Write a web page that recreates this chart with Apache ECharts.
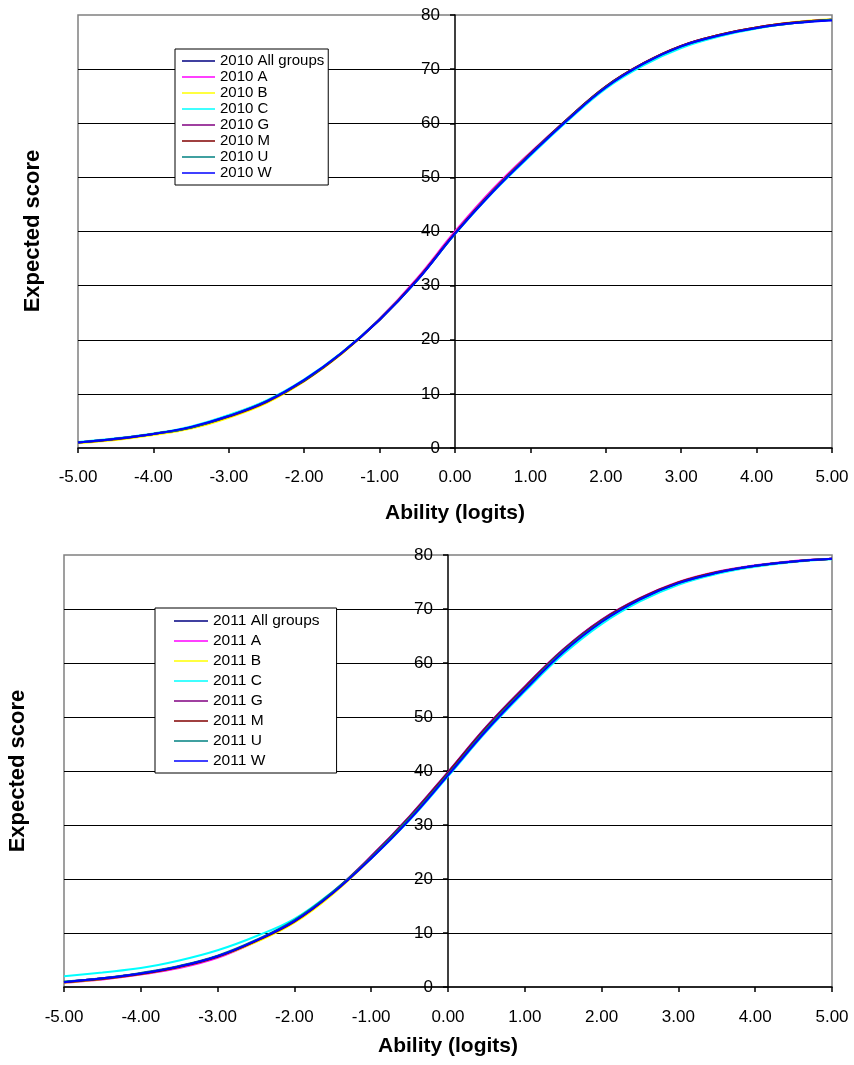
<!DOCTYPE html>
<html>
<head>
<meta charset="utf-8">
<script src="https://cdn.jsdelivr.net/npm/echarts@6/dist/echarts.min.js"></script>
<style>
html,body{margin:0;padding:0;background:#fff;}
#chart{width:854px;height:1065px;}
</style>
</head>
<body>
<div id="chart"></div>
<script>
// Ability (logits) sample points
var abilities = [-5,-4.5,-4,-3.5,-3,-2.5,-2,-1.5,-1,-0.5,0,0.5,1,1.5,2,2.5,3,3.5,4,4.5,5];

// 2010 expected scores
var y2010All = [1.0,1.7,2.6,3.8,5.9,8.6,12.5,17.6,23.7,31.0,39.6,47.4,54.3,60.8,66.7,71.0,74.2,76.2,77.6,78.5,79.1];
var y2010A   = [1.0,1.7,2.6,3.8,5.9,8.5,12.4,17.5,23.9,31.4,40.0,47.8,54.6,60.9,66.8,71.1,74.3,76.3,77.7,78.6,79.1];
var y2010B   = [0.9,1.5,2.4,3.6,5.6,8.3,12.3,17.4,23.8,31.1,39.7,47.5,54.4,60.8,66.7,71.0,74.2,76.3,77.7,78.7,79.2];
var y2010C   = [1.1,1.8,2.7,4.0,6.1,8.8,12.7,17.7,23.8,31.0,39.5,47.2,54.0,60.5,66.4,70.7,73.9,76.0,77.5,78.5,79.1];
var y2010G   = [1.0,1.7,2.6,3.8,5.9,8.6,12.5,17.6,23.8,31.2,39.7,47.5,54.4,60.9,66.8,71.1,74.3,76.3,77.7,78.6,79.1];
var y2010M   = [1.0,1.6,2.6,3.8,5.8,8.5,12.4,17.5,23.7,31.1,39.7,47.5,54.4,60.9,66.8,71.1,74.3,76.3,77.7,78.6,79.1];
var y2010U   = [1.0,1.7,2.6,3.8,5.9,8.6,12.5,17.6,23.7,31.0,39.6,47.4,54.3,60.8,66.7,71.0,74.2,76.2,77.6,78.5,79.1];
var y2010W   = [1.0,1.7,2.6,3.9,5.9,8.6,12.6,17.6,23.7,31.0,39.6,47.3,54.2,60.7,66.6,71.0,74.2,76.2,77.6,78.5,79.0];

// 2011 expected scores
var y2011All = [0.9,1.6,2.5,3.8,5.7,8.6,12.2,17.4,23.9,31.2,39.4,47.8,55.2,62.2,67.7,71.8,74.8,76.7,78.0,78.8,79.3];
var y2011A   = [0.8,1.4,2.3,3.5,5.4,8.4,12.2,17.5,24.2,31.6,39.8,48.2,55.6,62.5,68.0,72.0,75.0,76.9,78.1,78.9,79.3];
var y2011B   = [0.8,1.5,2.4,3.7,5.6,8.3,11.9,17.2,23.8,31.2,39.5,47.9,55.3,62.3,67.8,71.9,74.9,76.8,78.0,78.8,79.3];
var y2011C   = [2.0,2.7,3.5,4.9,6.8,9.4,12.6,17.7,23.8,30.9,39.0,47.3,54.7,61.6,67.2,71.4,74.5,76.5,77.8,78.7,79.2];
var y2011G   = [0.9,1.6,2.5,3.8,5.7,8.6,12.3,17.6,24.2,31.6,39.8,48.2,55.6,62.5,68.0,72.0,74.9,76.8,78.0,78.8,79.3];
var y2011M   = [0.9,1.5,2.4,3.7,5.6,8.5,12.1,17.4,24.0,31.4,39.6,48.0,55.4,62.3,67.8,71.9,74.9,76.8,78.0,78.8,79.3];
var y2011U   = [1.0,1.6,2.6,3.9,5.8,8.7,12.4,17.6,24.0,31.3,39.4,47.8,55.2,62.2,67.7,71.8,74.8,76.7,78.0,78.8,79.3];
var y2011W   = [0.9,1.6,2.5,3.8,5.7,8.6,12.2,17.4,23.8,31.0,39.2,47.5,55.0,62.0,67.6,71.8,74.8,76.7,78.0,78.8,79.3];

var groupNames = ['All groups','A','B','C','G','M','U','W'];
var groupColors = ['#000080','#FF00FF','#FFFF00','#00FFFF','#800080','#800000','#008080','#0000FF'];
var data2010 = [y2010All,y2010A,y2010B,y2010C,y2010G,y2010M,y2010U,y2010W];
var data2011 = [y2011All,y2011A,y2011B,y2011C,y2011G,y2011M,y2011U,y2011W];

var xTickMin = -5, xTickMax = 5, xTickStep = 1;
var yTickMin = 0, yTickMax = 80, yTickStep = 10;

var FONT = "'Liberation Sans', Arial, sans-serif";

function makeSeries(year, arrs, gridIdx) {
  return arrs.map(function (ys, k) {
    return {
      name: year + ' ' + groupNames[k],
      type: 'line',
      xAxisIndex: gridIdx,
      yAxisIndex: gridIdx,
      data: abilities.map(function (x, i) { return [x, ys[i]]; }),
      showSymbol: false,
      smooth: 0.4,
      color: groupColors[k],
      lineStyle: { width: 2, color: groupColors[k] },
      itemStyle: { color: groupColors[k] },
      animation: false
    };
  });
}

function xAxisCfg(gridIdx, gap, margin) {
  return {
    type: 'value', gridIndex: gridIdx,
    min: xTickMin, max: xTickMax, interval: xTickStep,
    name: 'Ability (logits)', nameLocation: 'middle', nameGap: gap,
    nameTextStyle: { fontFamily: FONT, fontSize: 21, fontWeight: 'bold', color: '#000' },
    axisLine: { onZero: false, lineStyle: { color: '#000', width: 1.5 } },
    axisTick: { show: true, length: 5, lineStyle: { color: '#000', width: 1.5 } },
    axisLabel: { fontFamily: FONT, fontSize: 17, color: '#000', margin: margin,
      formatter: function (v) { return v.toFixed(2); } },
    splitLine: { show: false }
  };
}

function yAxisCfg(gridIdx) {
  return {
    type: 'value', gridIndex: gridIdx, position: 'left', offset: 0,
    min: yTickMin, max: yTickMax, interval: yTickStep,
    axisLine: { show: true, onZero: false, lineStyle: { color: '#000', width: 1.5 } },
    axisTick: { show: true, inside: false, length: 5, lineStyle: { color: '#000', width: 1.5 } },
    axisLabel: { fontFamily: FONT, fontSize: 17, color: '#000', margin: 15 },
    splitLine: { show: true, showMinLine: false, showMaxLine: false,
      lineStyle: { color: '#000', width: 1.2 } }
  };
}

var gridBoxes = [
  { left: 78, top: 15, width: 754, height: 433 },
  { left: 64, top: 555, width: 768, height: 432 }
];

var chart = echarts.init(document.getElementById('chart'), null, { renderer: 'canvas' });

var option = {
  backgroundColor: '#fff',
  animation: false,
  grid: gridBoxes.map(function (g) {
    return { left: g.left, top: g.top, width: g.width, height: g.height, show: true,
      borderColor: '#808080', borderWidth: 1.5, backgroundColor: 'transparent' };
  }),
  xAxis: [xAxisCfg(0, 55, 21), xAxisCfg(1, 49, 22)],
  yAxis: [yAxisCfg(0), yAxisCfg(1)],
  legend: [
    {
      data: groupNames.map(function (g) { return '2010 ' + g; }),
      orient: 'vertical', left: 175, top: 49,
      icon: 'rect', itemWidth: 33, itemHeight: 1.5, itemGap: 0,
      padding: [4, 4, 4, 7],
      borderColor: '#000', borderWidth: 1, backgroundColor: '#fff',
      textStyle: { fontFamily: FONT, fontSize: 15, color: '#000', lineHeight: 16, padding: 0 },
      selectedMode: false
    },
    {
      data: groupNames.map(function (g) { return '2011 ' + g; }),
      orient: 'vertical', left: 155, top: 608,
      icon: 'rect', itemWidth: 34, itemHeight: 1.5, itemGap: 0,
      padding: [3, 17, 2, 19],
      borderColor: '#000', borderWidth: 1, backgroundColor: '#fff',
      textStyle: { fontFamily: FONT, fontSize: 15.5, color: '#000', lineHeight: 20, padding: 0 },
      selectedMode: false
    }
  ],
  graphic: [
    { type: 'text', x: 33, y: 231, rotation: Math.PI / 2,
      style: { text: 'Expected score', fontFamily: FONT, fontSize: 22, fontWeight: 'bold', fill: '#000', align: 'center', verticalAlign: 'middle' } },
    { type: 'text', x: 18, y: 771, rotation: Math.PI / 2,
      style: { text: 'Expected score', fontFamily: FONT, fontSize: 22, fontWeight: 'bold', fill: '#000', align: 'center', verticalAlign: 'middle' } }
  ],
  series: makeSeries(2010, data2010, 0).concat(makeSeries(2011, data2011, 1))
};

chart.setOption(option);

// Place each value axis on the x = 0 line of its grid (through the library's scale)
var offsets = [0, 1].map(function (i) {
  var zeroPx = chart.convertToPixel({ xAxisIndex: i }, 0);
  return { offset: -(zeroPx - gridBoxes[i].left) };
});
chart.setOption({ yAxis: offsets });
</script>
</body>
</html>
